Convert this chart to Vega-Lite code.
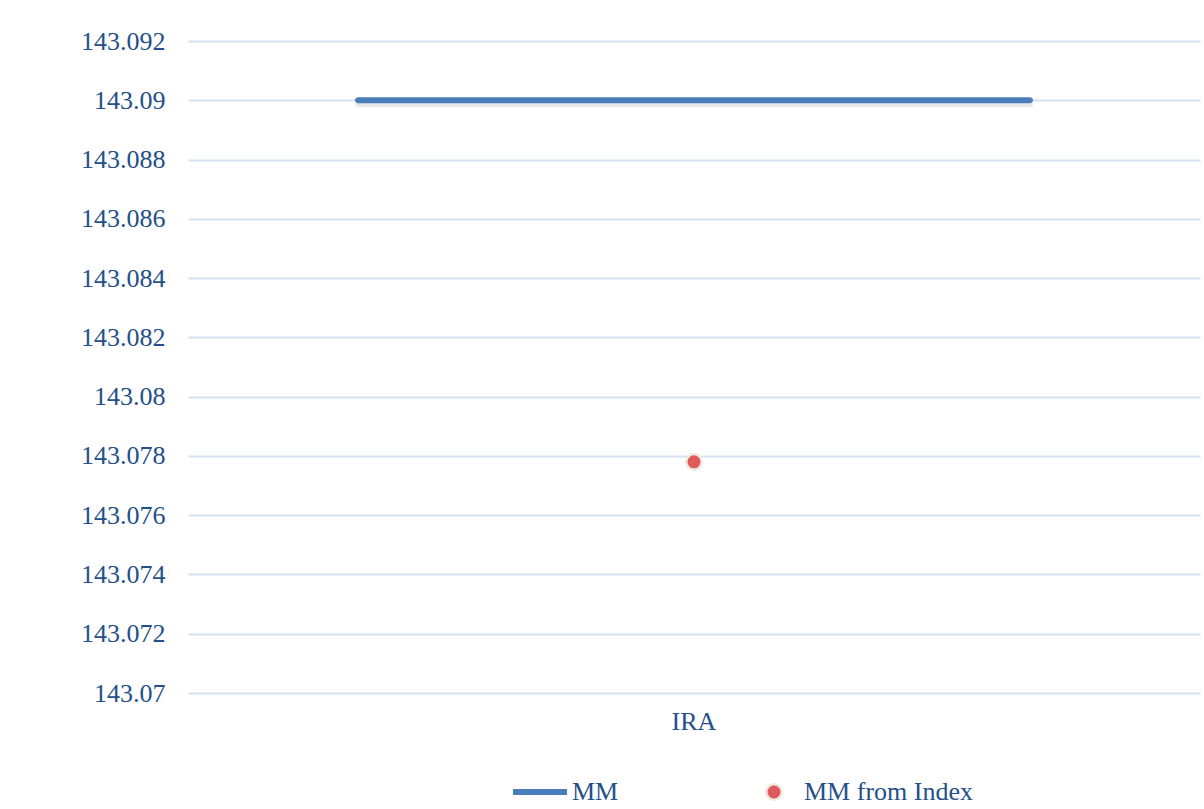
{
  "$schema": "https://vega.github.io/schema/vega-lite/v6.json",
  "autosize": {"type": "none"},
  "width": 1012,
  "height": 652,
  "padding": {"left": 188, "top": 41, "right": 4, "bottom": 116},
  "background": "#ffffff",
  "config": {
    "view": {"stroke": null},
    "font": "Liberation Serif",
    "axis": {
      "labelFont": "Liberation Serif",
      "labelFontSize": 26,
      "labelColor": "#24508a",
      "domain": false,
      "ticks": false,
      "tickSize": 0,
      "title": null
    },
    "legend": {
      "labelFont": "Liberation Serif",
      "labelFontSize": 26,
      "labelColor": "#24508a",
      "labelLimit": 400,
      "padding": 0,
      "title": null
    }
  },
  "data": {
    "values": [
      {"category": "IRA", "series": "MM", "value": 143.09},
      {"category": "IRA", "series": "MM from Index", "value": 143.0778}
    ]
  },
  "encoding": {
    "x": {
      "field": "category",
      "type": "nominal",
      "scale": {"paddingInner": 0, "paddingOuter": 0},
      "axis": {"labelAngle": 0, "labelPadding": 15, "grid": false}
    },
    "y": {
      "field": "value",
      "type": "quantitative",
      "scale": {"domain": [143.07, 143.092], "nice": false, "zero": false},
      "axis": {
        "values": [143.07, 143.072, 143.074, 143.076, 143.078, 143.08, 143.082, 143.084, 143.086, 143.088, 143.09, 143.092],
        "format": ".6~r",
        "labelPadding": 23,
        "grid": true,
        "gridColor": "#d6e2f1",
        "gridWidth": 2
      }
    }
  },
  "layer": [
    {
      "transform": [{"filter": "datum.series === 'MM'"}],
      "mark": {"type": "tick", "size": 678, "thickness": 6, "cornerRadius": 3, "color": "#7f7f7f", "opacity": 0.18, "yOffset": 4},
      "encoding": {}
    },
    {
      "transform": [{"filter": "datum.series === 'MM'"}],
      "mark": {"type": "tick", "size": 678, "thickness": 6, "cornerRadius": 3, "opacity": 1},
      "encoding": {
        "color": {
          "field": "series",
          "type": "nominal",
          "scale": {"domain": ["MM"], "range": ["#4a7ebb"]},
          "legend": {
            "orient": "none",
            "legendX": 322,
            "legendY": 721,
            "symbolType": "stroke",
            "symbolSize": 2916,
            "symbolStrokeWidth": 6,
            "symbolStrokeColor": "#4a7ebb",
            "labelOffset": 2,
            "encode": {
              "symbols": {
                "update": {
                  "stroke": {"value": "#4a7ebb"},
                  "strokeWidth": {"value": 6},
                  "strokeCap": {"value": "round"},
                  "opacity": {"value": 1}
                }
              }
            }
          }
        }
      }
    },
    {
      "transform": [{"filter": "datum.series === 'MM from Index'"}],
      "mark": {"type": "point", "filled": true, "shape": "circle", "size": 240, "stroke": "#eee9de", "strokeWidth": 2.5, "opacity": 1},
      "encoding": {
        "fill": {
          "field": "series",
          "type": "nominal",
          "scale": {"domain": ["MM from Index"], "range": ["#e05a5c"]},
          "legend": {
            "orient": "none",
            "legendX": 573,
            "legendY": 738,
            "symbolType": "circle",
            "symbolSize": 240,
            "symbolStrokeColor": "#eee9de",
            "symbolStrokeWidth": 2.5,
            "labelOffset": 17,
            "encode": {
              "symbols": {
                "update": {
                  "stroke": {"value": "#eee9de"},
                  "strokeWidth": {"value": 2.5},
                  "opacity": {"value": 1}
                }
              }
            }
          }
        }
      }
    }
  ]
}
